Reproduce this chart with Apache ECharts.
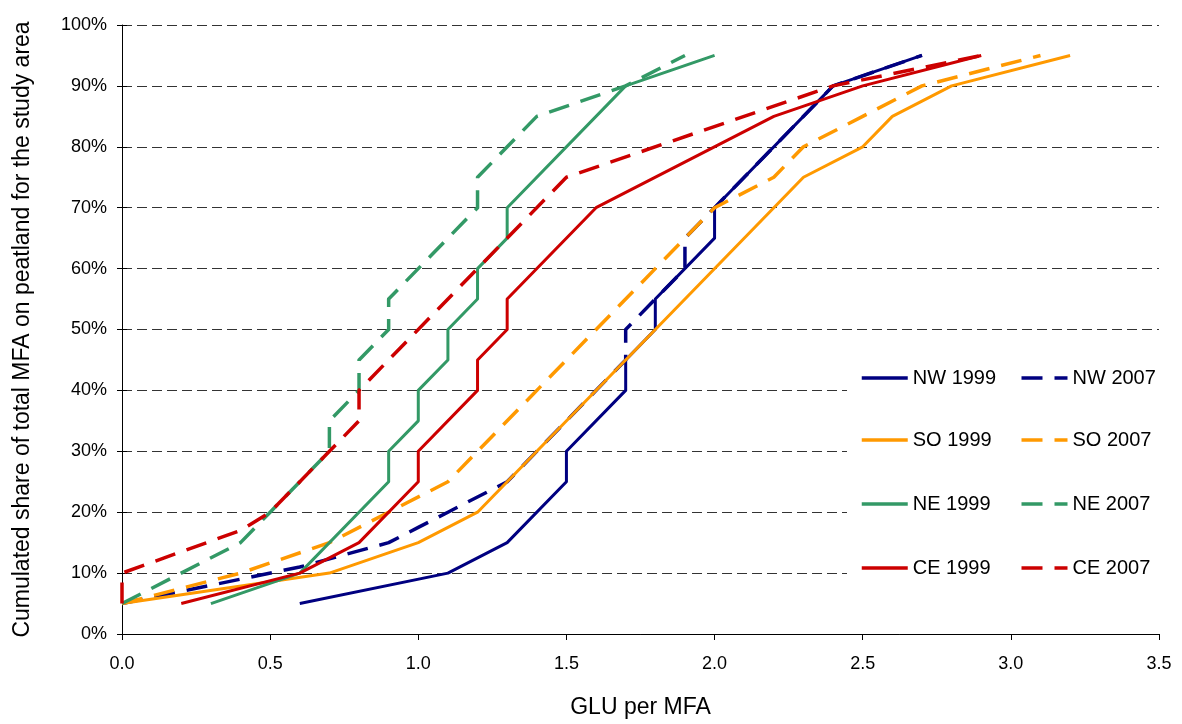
<!DOCTYPE html>
<html>
<head>
<meta charset="utf-8">
<title>GLU per MFA</title>
<script src="https://cdn.jsdelivr.net/npm/echarts@6/dist/echarts.min.js"></script>
<style>
	html, body { margin: 0; padding: 0; background: #fff; }
	#chart { width: 1182px; height: 724px; }
</style>
</head>
<body>
<div id="chart"></div>
<script>
// x = GLU per MFA, y = cumulated share (%)
var nw1999 = [[0.6, 5], [1.1, 10], [1.3, 15], [1.5, 25], [1.5, 30], [1.7, 40], [1.7, 45], [1.8, 50], [1.8, 55], [2.0, 65], [2.0, 70], [2.4, 90], [2.7, 95]];
var nw2007 = [[0, 5], [0.6, 11], [0.9, 15], [1.0, 17.5], [1.1, 20], [1.3, 25], [1.7, 45], [1.7, 50], [1.8, 55], [1.9, 60], [1.9, 65], [2.0, 70], [2.4, 90], [2.7, 95]];
var so1999 = [[0, 5], [0.7, 10], [1.0, 15], [1.2, 20], [1.3, 25], [2.2, 70], [2.3, 75], [2.5, 80], [2.6, 85], [2.8, 90], [3.2, 95]];
var so2007 = [[0, 5], [0.4, 10], [0.7, 15], [1.1, 25], [2.0, 70], [2.2, 75], [2.3, 80], [2.5, 85], [2.7, 90], [3.1, 95]];
var ne1999 = [[0.3, 5], [0.6, 10], [0.9, 25], [0.9, 30], [1.0, 35], [1.0, 40], [1.1, 45], [1.1, 50], [1.2, 55], [1.2, 60], [1.3, 65], [1.3, 70], [1.7, 90], [2.0, 95]];
var ne2007 = [[0, 5], [0.4, 15], [0.5, 20], [0.7, 30], [0.7, 35], [0.8, 40], [0.8, 45], [0.9, 50], [0.9, 55], [1.2, 70], [1.2, 75], [1.4, 85], [1.7, 90], [1.9, 95]];
var ce1999 = [[0.2, 5], [0.6, 10], [0.8, 15], [1.0, 25], [1.0, 30], [1.2, 40], [1.2, 45], [1.3, 50], [1.3, 55], [1.6, 70], [2.2, 85], [2.5, 90], [2.9, 95]];
var ce2007 = [[0, 5], [0, 10], [0.4, 17], [0.5, 20], [0.7, 30], [0.8, 35], [0.8, 40], [1.5, 75], [2.4, 90], [2.9, 95]];

var legendRows = [['NW 1999', 'NW 2007'], ['SO 1999', 'SO 2007'], ['NE 1999', 'NE 2007'], ['CE 1999', 'CE 2007']];
var legendCenters = [378, 440, 504, 568];

var font = 'Liberation Sans, Arial, sans-serif';
var navy = '#000080', orange = '#FF9900', green = '#339966', red = '#CC0000';

function line(name, data, color, dashed) {
	return {
		name: name,
		type: 'line',
		data: data,
		symbol: 'none',
		animation: false,
		color: color,
		lineStyle: {
			color: color,
			width: dashed ? 3.5 : 3,
			type: dashed ? [21, 12] : 'solid',
			cap: 'butt',
			join: 'round'
		}
	};
}

var chart = echarts.init(document.getElementById('chart'), null, { renderer: 'canvas' });

var legends = legendRows.map(function (row, i) {
	return {
		data: row,
		orient: 'horizontal',
		left: 847,
		top: legendCenters[i] - 31.5,
		padding: [20.5, 6, 20.5, 13],
		itemWidth: 46,
		itemHeight: 14,
		itemGap: 20,
		backgroundColor: '#fff',
		selectedMode: false,
		itemStyle: { opacity: 0 },
		lineStyle: { width: 3.5 },
		textStyle: {
			fontFamily: font,
			fontSize: 20,
			color: '#000',
			lineHeight: 22,
			width: 87
		}
	};
});

chart.setOption({
	backgroundColor: '#fff',
	animation: false,
	grid: {
		left: 122,
		right: 23,
		top: 25,
		bottom: 87,
		containLabel: false
	},
	legend: legends,
	xAxis: {
		type: 'value',
		min: 0,
		max: 3.5,
		interval: 0.5,
		name: 'GLU per MFA',
		nameLocation: 'middle',
		nameGap: 62,
		nameTextStyle: { fontFamily: font, fontSize: 23, color: '#000' },
		axisLine: { show: true, onZero: false, lineStyle: { color: '#000', width: 1 } },
		axisTick: { show: true, length: 6, lineStyle: { color: '#000' } },
		axisLabel: {
			fontFamily: font,
			fontSize: 18,
			color: '#000',
			margin: 21,
			formatter: function (v) { return v.toFixed(1); }
		},
		splitLine: { show: false }
	},
	yAxis: [
		{
			type: 'value',
			min: 0,
			max: 100,
			interval: 10,
			name: 'Cumulated share of total MFA on peatland for the study area',
			nameLocation: 'middle',
			nameGap: 88,
			nameTextStyle: { fontFamily: font, fontSize: 23, color: '#000' },
			axisLine: { show: true, lineStyle: { color: '#000', width: 1 } },
			axisTick: { show: true, length: 5, lineStyle: { color: '#000' } },
			axisLabel: {
				fontFamily: font,
				fontSize: 18,
				color: '#000',
				margin: 15,
				formatter: '{value}%'
			},
			splitLine: { show: true, lineStyle: { color: '#333', width: 1, type: [10, 5] } }
		},
		{
			// inner half of the cross ticks
			type: 'value',
			min: 0,
			max: 100,
			interval: 10,
			position: 'left',
			offset: 0,
			axisLine: { show: false },
			axisTick: { show: true, inside: true, length: 5, lineStyle: { color: '#000' } },
			axisLabel: { show: false },
			splitLine: { show: false }
		}
	],
	series: [
		line('NW 1999', nw1999, navy, false),
		line('NW 2007', nw2007, navy, true),
		line('SO 1999', so1999, orange, false),
		line('SO 2007', so2007, orange, true),
		line('NE 1999', ne1999, green, false),
		line('NE 2007', ne2007, green, true),
		line('CE 1999', ce1999, red, false),
		line('CE 2007', ce2007, red, true)
	]
});
</script>
</body>
</html>
